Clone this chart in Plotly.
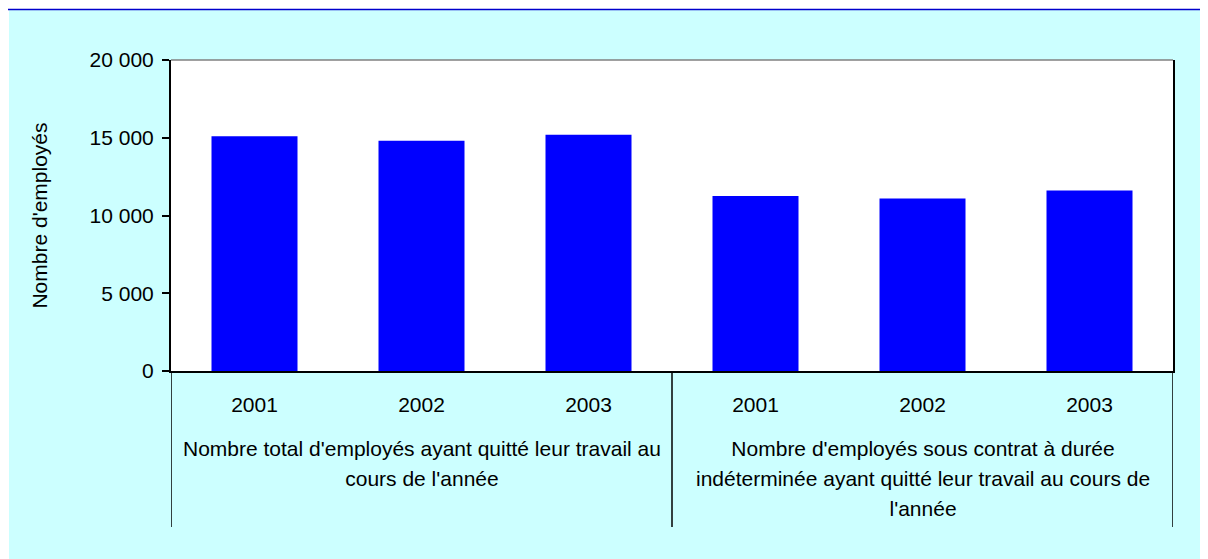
import plotly.graph_objects as go

# Data
groups = [
    "Nombre total d'employés ayant quitté leur travail au<br>cours de l'année",
    "Nombre d'employés sous contrat à durée<br>indéterminée ayant quitté leur travail au cours de<br>l'année",
]
years = ["2001", "2002", "2003"]
total_left = [15100, 14800, 15200]
cdi_left = [11250, 11100, 11600]

y_title = "Nombre d'employés"

FONT = "Liberation Sans, Arial, sans-serif"
# the page adds an 8px body margin, so the figure is 8px smaller
W, H = 1200, 551
ML, MR, MT, MB = 163, 35, 52, 188

values = total_left + cdi_left
labels = years * len(groups)
xpos = list(range(len(values)))

plot_w = W - ML - MR
plot_h = H - MT - MB


def px_x(p):
    return (p - ML) / plot_w


def px_y(p):
    return (H - MB - p) / plot_h


fig = go.Figure()
fig.add_trace(go.Bar(
    x=xpos,
    y=values,
    width=0.515,
    marker=dict(color="#0000FF", line=dict(width=0)),
    hovertemplate="%{y}<extra></extra>",
))

shapes = []
# page frame: thin white edge and blue line on top
shapes.append(dict(type="rect", xref="paper", yref="paper",
                   x0=px_x(0), x1=px_x(W), y0=px_y(2), y1=px_y(0),
                   fillcolor="white", line=dict(width=0), layer="above"))
shapes.append(dict(type="rect", xref="paper", yref="paper",
                   x0=px_x(0), x1=px_x(1), y0=px_y(H), y1=px_y(0),
                   fillcolor="white", line=dict(width=0), layer="above"))
shapes.append(dict(type="line", xref="paper", yref="paper",
                   x0=px_x(0), x1=px_x(W), y0=px_y(1.5), y1=px_y(1.5),
                   line=dict(color="#0000CC", width=1.5), layer="above"))
# plot area top border
shapes.append(dict(type="line", xref="paper", yref="paper",
                   x0=0, x1=1, y0=1, y1=1,
                   line=dict(color="#808080", width=1.5), layer="above"))

# group dividers below the category axis
n = len(years)
axis_px = H - MB
for g in range(len(groups) + 1):
    xd = g * n - 0.5
    shapes.append(dict(type="line", xref="x", yref="paper",
                       x0=xd, x1=xd, y0=0, y1=px_y(axis_px + 156),
                       line=dict(color="black", width=1.5), layer="above"))

annotations = []
for g, name in enumerate(groups):
    center = sum(xpos[g * n:(g + 1) * n]) / n
    annotations.append(dict(
        x=center, xref="x", y=px_y(axis_px + 64), yref="paper",
        xanchor="center", yanchor="top", showarrow=False,
        text=f'<span style="font-size:21px">{name}</span>',
        font=dict(family=FONT, size=23, color="black"),
        align="center",
    ))

fig.update_layout(
    width=W, height=H,
    margin=dict(l=ML, r=MR, t=MT, b=MB, pad=0),
    paper_bgcolor="#CCFFFF",
    plot_bgcolor="white",
    font=dict(family=FONT, size=21, color="black"),
    separators=", ",
    showlegend=False,
    bargap=0.485,
    shapes=shapes,
    annotations=annotations,
)

fig.update_xaxes(
    range=[-0.5, len(values) - 0.5],
    tickvals=xpos,
    ticktext=labels,
    ticks="",
    ticklabelstandoff=14,
    showgrid=False,
    zeroline=False,
    showline=True, linecolor="black", linewidth=2,
    tickfont=dict(size=21),
)

fig.update_yaxes(
    range=[0, 20000],
    dtick=5000,
    tickformat=",d",
    ticks="outside", ticklen=7, tickcolor="black", tickwidth=1.5,
    ticklabelstandoff=4,
    showgrid=False,
    zeroline=False,
    showline=True, linecolor="black", linewidth=2, mirror=True,
    tickfont=dict(size=21),
    title=dict(text=y_title, font=dict(size=21), standoff=36),
)

fig.write_html("out.html")
